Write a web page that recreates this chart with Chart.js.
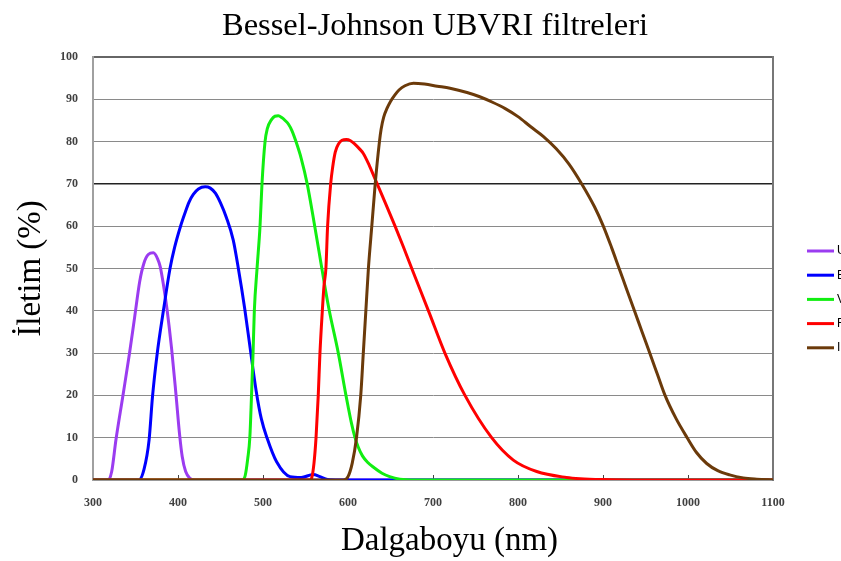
<!DOCTYPE html>
<html>
<head>
<meta charset="utf-8">
<script src="https://cdn.jsdelivr.net/npm/chart.js@4.4.1/dist/chart.umd.min.js"></script>
<style>
  html, body { margin: 0; padding: 0; background: #fff; overflow: hidden; }
  #wrap { width: 841px; height: 561px; overflow: hidden; }
</style>
</head>
<body>
<div id="wrap"><canvas id="c" width="870" height="561"></canvas></div>
<script>
// dalga boyu (nm) / iletim (%) noktalari
const U_NM = [300, 318, 322, 327, 335, 343, 349, 355, 360, 365, 371, 376, 379, 383, 387, 392.5, 397.5, 402, 405, 409, 414, 420, 1100];
const U_T  = [0,   0,   2,   9.5, 19.7, 30,  38.5, 47, 51.3, 53.3, 53.7, 52.3, 50.5, 46, 40.5, 31,  20.5,  10.5, 5.5, 2,  0.4, 0,   0];

const B_NM = [300, 354, 360, 366, 370, 375.6, 382.8, 390.6, 396, 403, 408, 413, 418, 424, 432, 438, 444, 450, 457, 465, 471, 478.5, 485, 492, 498, 505, 516, 531.8, 545, 559, 567, 576, 590, 1100];
const B_T  = [0,   0,   2.5, 9.5, 19.7, 30,   40,    50,    55,  60,  63,  65.7, 67.5, 68.8, 69.3, 69,  67.8, 65.5, 62, 56.7, 50, 40.5,  31,  21,  14.5, 9.8, 4.3, 0.8,   0.6, 1.3, 0.8, 0.1, 0,   0];

const V_NM = [300, 476, 479, 482, 484.5, 486.5, 488.3, 489.8, 493, 496.5, 498.8, 502.4, 505, 510, 514, 518, 522, 526, 530, 534, 538.8, 545, 552, 560, 568, 573, 578, 588.6, 597.6, 600, 604, 608, 612, 617, 623, 630, 640, 649, 661, 680, 1100];
const V_T  = [0,   0,   1,   5,   10,    20,    30,    40,    50,  60,    70,    80,    83,  85.2, 86, 86.1, 85.7, 85, 84.1, 82.6, 80,  76,  70,  61,  51.5, 45.5, 40, 30,    20,    17.5, 13.5, 10.2, 7.8, 5.7, 4.2, 3,   1.6, 0.8, 0.2, 0,   0];

const R_NM = [300, 555, 557.3, 560, 562.4, 565, 567, 569.8, 571.8, 574, 576, 579.6, 582, 585, 589, 593, 598, 603, 608, 613, 618, 625, 633.7, 645, 655, 665, 677, 695.6, 714, 737.6, 769, 794.5, 822, 857, 873, 900, 950, 1100];
const R_T  = [0,   0,   0.5,   4,   10,    20,  30,  40,    46,    50,  60,  70,    74,  77.5, 79.5, 80.3, 80.5, 80.2, 79.4, 78.4, 77.2, 74.4, 70.3, 65, 60.2, 55.2, 49, 39.5, 30,  20,    10,  4.7,   2,   0.6, 0.3, 0.1, 0,   0];

const I_NM = [300, 594.5, 600, 605, 610, 615, 618, 621, 624, 628, 632, 637, 639, 642, 646, 650, 655, 660, 667, 677, 690, 705, 720, 740, 755, 770, 785, 800, 815, 830, 845, 860, 875, 890, 900, 910, 919, 928, 937, 946, 955, 964, 973, 986, 999, 1010, 1022, 1035, 1049, 1065, 1081, 1100];
const I_T  = [0,   0,     0.8, 4,   10,  20,  30,  40,  50,  60,  70,  80,  83,  85.8, 87.9, 89.5, 91, 92.2, 93.2, 93.8, 93.6, 93.1, 92.6, 91.6, 90.6, 89.3, 87.8, 85.9, 83.5, 81.2, 78.3, 74.7, 70, 64.6, 60.2, 55, 50, 45, 40, 35, 30, 25, 20, 14.5, 10, 6.5, 3.9, 2.2, 1.2, 0.5, 0.2, 0];

const FILTERS = ["U", "B", "V", "R", "I"];
const COLORS = ["#9b3cf0", "#0000ff", "#11ee11", "#ff0000", "#6b3a0a"];
const X_TICKS = [300, 400, 500, 600, 700, 800, 900, 1000, 1100];

function pairs(nm, t) {
  return nm.map((x, i) => ({ x: x, y: t[i] }));
}

const series = [[U_NM, U_T], [B_NM, B_T], [V_NM, V_T], [R_NM, R_T], [I_NM, I_T]];

const datasets = series.map((s, i) => ({
  label: FILTERS[i],
  data: pairs(s[0], s[1]),
  borderColor: COLORS[i],
  backgroundColor: COLORS[i],
  borderWidth: 3,
  pointRadius: 0,
  fill: false,
  cubicInterpolationMode: "monotone",
  order: 5 - i
}));

// sagdaki lejant (kenardan tasiyor, yazilar kesik)
const sideLegend = {
  id: "sideLegend",
  afterDraw(chart) {
    const ctx = chart.ctx;
    const x0 = chart.chartArea.right + 34;
    ctx.save();
    ctx.font = "12px 'Liberation Sans'";
    ctx.textBaseline = "middle";
    chart.data.datasets.forEach((ds, i) => {
      const y = 251 + i * 24.2;
      ctx.strokeStyle = ds.borderColor;
      ctx.lineWidth = 3;
      ctx.beginPath();
      ctx.moveTo(x0, y);
      ctx.lineTo(x0 + 27, y);
      ctx.stroke();
      ctx.fillStyle = "#000";
      ctx.fillText(ds.label, x0 + 30, y);
    });
    ctx.restore();
  }
};

const tickFont = { family: "'Liberation Serif'", size: 12, weight: "bold" };
const axisTitleFont = { family: "'Liberation Serif'", size: 33, weight: "normal" };

new Chart(document.getElementById("c"), {
  type: "line",
  data: { datasets: datasets },
  options: {
    responsive: false,
    animation: false,
    layout: { padding: 0 },
    plugins: {
      legend: { display: false },
      tooltip: { enabled: false },
      title: {
        display: true,
        text: "Bessel-Johnson UBVRI filtreleri",
        color: "#000",
        font: { family: "'Liberation Serif'", size: 32.5, weight: "normal" },
        padding: { top: 7, bottom: 11 }
      }
    },
    scales: {
      x: {
        type: "linear",
        min: 300,
        max: 1100,
        afterBuildTicks: (s) => { s.ticks = X_TICKS.map(v => ({ value: v })); },
        afterFit: (s) => { s.height = 81; },
        ticks: {
          color: "#404040",
          padding: 21,
          maxRotation: 0,
          font: tickFont,
          callback: (v) => String(v)
        },
        grid: {
          drawOnChartArea: false,
          tickColor: "#444",
          tickWidth: 1,
          tickLength: -5
        },
        border: { display: true, color: "#999", width: 2 },
        title: {
          display: true,
          text: "\u00a0\u00a0\u00a0\u00a0Dalgaboyu (nm)",
          color: "#000",
          font: axisTitleFont,
          padding: { top: 0, bottom: 0 }
        }
      },
      y: {
        min: 0,
        max: 100,
        afterFit: (s) => { s.width = 93; },
        ticks: {
          stepSize: 10,
          color: "#404040",
          padding: 15,
          font: tickFont
        },
        grid: {
          drawTicks: false,
          color: (c) => {
            const v = c.tick.value;
            if (v === 70) return "#222";
            if (v === 100) return "#666";
            return "#8a8a8a";
          },
          lineWidth: (c) => {
            const v = c.tick.value;
            if (v === 100) return 2;
            if (v === 70) return 1.5;
            return 1;
          }
        },
        border: { display: true, color: "#a0a0a0", width: 2 },
        title: {
          display: true,
          text: "İletim (%)",
          color: "#000",
          font: axisTitleFont,
          padding: { top: 12, bottom: 0 }
        }
      },
      // sag cerceve cizgisi ve lejant icin bosluk
      yRight: {
        position: "right",
        min: 0,
        max: 100,
        afterFit: (s) => { s.width = 97; },
        ticks: { display: false },
        grid: { display: false, drawTicks: false },
        border: { display: true, color: "#777", width: 2 }
      }
    }
  },
  plugins: [sideLegend]
});
</script>
</body>
</html>
